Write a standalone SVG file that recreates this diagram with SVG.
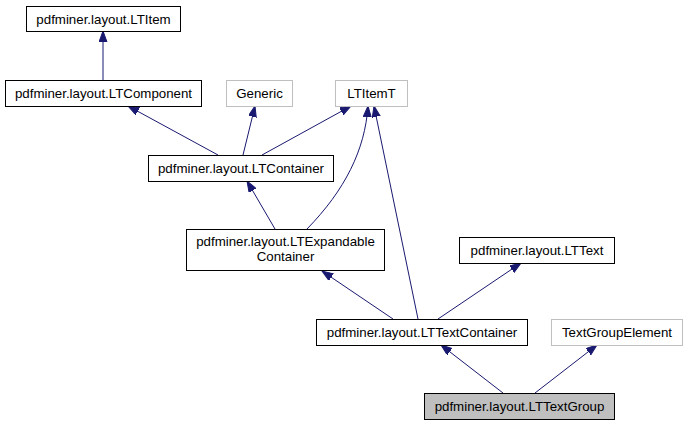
<svg xmlns="http://www.w3.org/2000/svg" width="687" height="425" viewBox="0 0 687 425">
<style>
  .n rect { fill: #ffffff; stroke: #000000; stroke-width: 1; }
  .g rect { fill: #ffffff; stroke: #bfbfbf; stroke-width: 1; }
  .cur rect { fill: #bfbfbf; stroke: #000000; stroke-width: 1; }
  text { font-family: "Liberation Sans", Arial, Helvetica, sans-serif; font-size: 13.3px; fill: #000000; text-anchor: middle; }
  .e { fill: none; stroke: #191970; stroke-width: 1; }
</style>
<defs>
  <marker id="ah" markerUnits="userSpaceOnUse" markerWidth="12" markerHeight="10" refX="11" refY="4" orient="auto">
    <path d="M0,0 L11,4 L0,8 Z" fill="#191970" stroke="#191970" stroke-width="1"/>
  </marker>
</defs>
<rect width="687" height="425" fill="#ffffff"/>
<g id="connectors">
  <path class="e" d="M103,80 L103,31" marker-end="url(#ah)"/>
  <path class="e" d="M218,155 L128,106" marker-end="url(#ah)"/>
  <path class="e" d="M243,155 L255,106" marker-end="url(#ah)"/>
  <path class="e" d="M262,155 L351,106" marker-end="url(#ah)"/>
  <path class="e" d="M275,229 L247,181" marker-end="url(#ah)"/>
  <path class="e" d="M307,229 C345,190 365,150 368,106" marker-end="url(#ah)"/>
  <path class="e" d="M418,319 L374,106" marker-end="url(#ah)"/>
  <path class="e" d="M393,319 L322,271" marker-end="url(#ah)"/>
  <path class="e" d="M438,319 L521,263" marker-end="url(#ah)"/>
  <path class="e" d="M503,393 L441,345" marker-end="url(#ah)"/>
  <path class="e" d="M535,393 L597,345" marker-end="url(#ah)"/>
</g>
<g id="LTItem" class="n"><rect x="26.5" y="6.5" width="154" height="25"/><text x="103.5" y="23.5">pdfminer.layout.LTItem</text></g>
<g id="LTComponent" class="n"><rect x="5.5" y="80.5" width="196" height="26"/><text x="103.5" y="98">pdfminer.layout.LTComponent</text></g>
<g id="Generic" class="g"><rect x="226.5" y="80.5" width="66" height="26"/><text x="259.5" y="98">Generic</text></g>
<g id="LTItemT" class="g"><rect x="335.5" y="80.5" width="72" height="26"/><text x="371.5" y="98">LTItemT</text></g>
<g id="LTContainer" class="n"><rect x="148.5" y="155.5" width="185" height="26"/><text x="241" y="173">pdfminer.layout.LTContainer</text></g>
<g id="LTExpandableContainer" class="n"><rect x="186.5" y="229.5" width="198" height="41"/><text x="285.5" y="246">pdfminer.layout.LTExpandable</text><text x="285.5" y="261">Container</text></g>
<g id="LTText" class="n"><rect x="459.5" y="237.5" width="155" height="26"/><text x="537" y="255">pdfminer.layout.LTText</text></g>
<g id="LTTextContainer" class="n"><rect x="316.5" y="319.5" width="211" height="26"/><text x="422" y="337">pdfminer.layout.LTTextContainer</text></g>
<g id="TextGroupElement" class="g"><rect x="551.5" y="319.5" width="131" height="26"/><text x="617" y="337">TextGroupElement</text></g>
<g id="LTTextGroup" class="cur"><rect x="424.5" y="393.5" width="190" height="26"/><text x="519.5" y="411">pdfminer.layout.LTTextGroup</text></g>
</svg>
